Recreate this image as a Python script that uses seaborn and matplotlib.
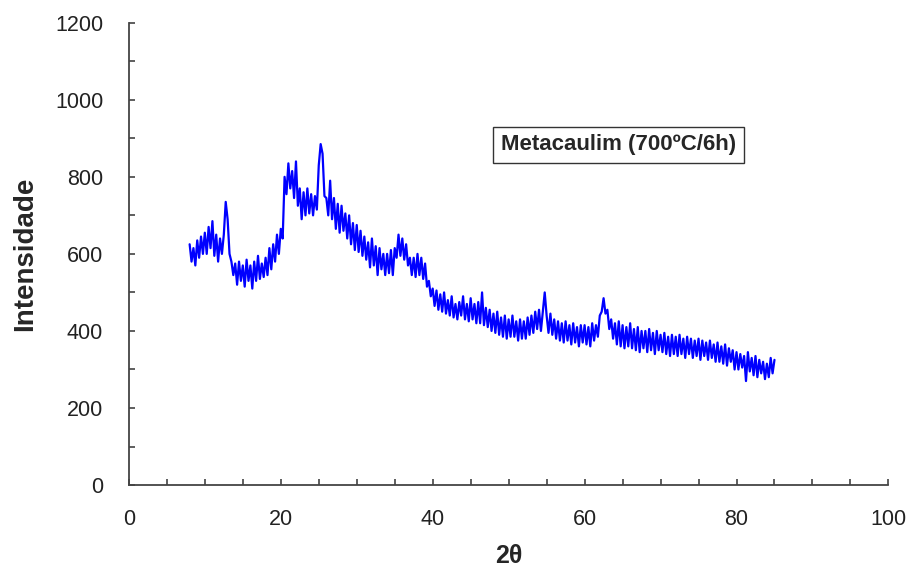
"""
XRD pattern of metakaolin (700 C / 6 h)
- intensity vs 2theta, single blue trace with label box
"""
import numpy as np
import pandas as pd
import matplotlib; matplotlib.use("Agg")
import matplotlib.pyplot as plt
from matplotlib.ticker import MultipleLocator
import seaborn as sns

# 2theta grid: 8.00 .. 85.00 step 0.25
TWO_THETA_START = 8.0
TWO_THETA_STEP = 0.25

# intensity, 8 values per 2 degrees
intensity = [
    625, 580, 615, 570, 635, 590, 645, 600,   # 8
    655, 600, 670, 615, 685, 595, 650, 580,   # 10
    640, 600, 650, 735, 690, 600, 580, 545,   # 12
    575, 520, 580, 530, 570, 515, 585, 530,   # 14
    570, 510, 580, 530, 595, 535, 575, 540,   # 16
    590, 545, 615, 560, 625, 580, 650, 600,   # 18
    665, 640, 800, 755, 835, 770, 815, 745,   # 20
    840, 725, 770, 690, 760, 700, 770, 705,   # 22
    755, 700, 750, 715, 830, 885, 860, 750,   # 24
    745, 700, 790, 690, 745, 665, 730, 655,   # 26
    725, 660, 705, 640, 700, 625, 680, 610,   # 28
    675, 605, 660, 595, 645, 585, 630, 565,   # 30
    640, 570, 620, 545, 615, 560, 600, 545,   # 32
    600, 550, 610, 545, 615, 590, 650, 595,   # 34
    640, 585, 625, 570, 590, 545, 590, 540,   # 36
    600, 545, 590, 535, 575, 515, 530, 490,   # 38
    510, 465, 505, 455, 495, 450, 500, 445,   # 40
    480, 440, 490, 435, 470, 430, 475, 440,   # 42
    490, 430, 470, 425, 485, 430, 470, 420,   # 44
    475, 420, 500, 415, 460, 410, 455, 400,   # 46
    445, 395, 450, 390, 435, 385, 440, 380,   # 48
    430, 385, 440, 385, 425, 375, 430, 380,   # 50
    425, 380, 435, 390, 440, 395, 450, 405,   # 52
    455, 400, 450, 500, 440, 395, 445, 390,   # 54
    430, 380, 425, 375, 420, 370, 425, 375,   # 56
    415, 365, 420, 370, 410, 360, 415, 370,   # 58
    415, 365, 410, 360, 420, 375, 415, 385,   # 60
    440, 450, 485, 445, 455, 405, 430, 380,   # 62
    420, 365, 425, 360, 415, 355, 410, 360,   # 64
    420, 355, 405, 350, 410, 345, 400, 355,   # 66
    400, 345, 405, 350, 395, 340, 400, 350,   # 68
    390, 345, 395, 340, 385, 335, 390, 340,   # 70
    385, 335, 390, 340, 380, 330, 385, 340,   # 72
    380, 330, 375, 335, 380, 325, 375, 335,   # 74
    370, 325, 375, 330, 365, 320, 370, 320,   # 76
    360, 315, 365, 310, 355, 320, 350, 300,   # 78
    345, 300, 340, 305, 335, 270, 345, 295,   # 80
    330, 285, 335, 280, 325, 290, 320, 275,   # 82
    315, 280, 330, 290,                       # 84
    325,                                      # 85
]

sample_label = "Metacaulim (700ºC/6h)"

two_theta = TWO_THETA_START + TWO_THETA_STEP * np.arange(len(intensity))
df = pd.DataFrame({"2theta": two_theta, "Intensidade": intensity})

sns.set_style("white")
plt.rcParams["font.family"] = ["Liberation Sans", "DejaVu Sans"]
plt.rcParams.update({
    "xtick.bottom": True, "ytick.left": True,
    "xtick.direction": "in", "ytick.direction": "in",
})

fig = plt.figure(figsize=(9.14, 5.68), dpi=100)
ax = fig.add_axes([0.141, 0.146, 0.831, 0.814])

sns.lineplot(data=df, x="2theta", y="Intensidade", ax=ax,
             color="#0000FF", linewidth=1.6)

ax.set_xlim(0, 100)
ax.set_ylim(0, 1200)
ax.xaxis.set_major_locator(MultipleLocator(20))
ax.xaxis.set_minor_locator(MultipleLocator(5))
ax.yaxis.set_major_locator(MultipleLocator(200))
ax.yaxis.set_minor_locator(MultipleLocator(100))
ax.tick_params(which="both", bottom=True, left=True, direction="in",
               length=4, width=1.1, color="#333333")
ax.tick_params(which="major", labelsize=15.5, labelcolor="#222222")
ax.tick_params(axis="x", which="major", pad=17)
ax.tick_params(axis="y", which="major", pad=18.5)

for side in ["top", "right"]:
    ax.spines[side].set_visible(False)
for side in ["left", "bottom"]:
    ax.spines[side].set_color("#444444")
    ax.spines[side].set_linewidth(1.3)

ax.set_xlabel("2θ", fontsize=18, fontweight="bold", labelpad=10)
ax.set_ylabel("Intensidade", fontsize=20, fontweight="bold", labelpad=12)

ax.text(64.5, 883, sample_label, fontsize=16, fontweight="bold",
        ha="center", va="center",
        bbox=dict(boxstyle="square,pad=0.35", facecolor="white",
                  edgecolor="#333333", linewidth=1.0))

plt.savefig("out.png", dpi=100)
plt.close("all")
